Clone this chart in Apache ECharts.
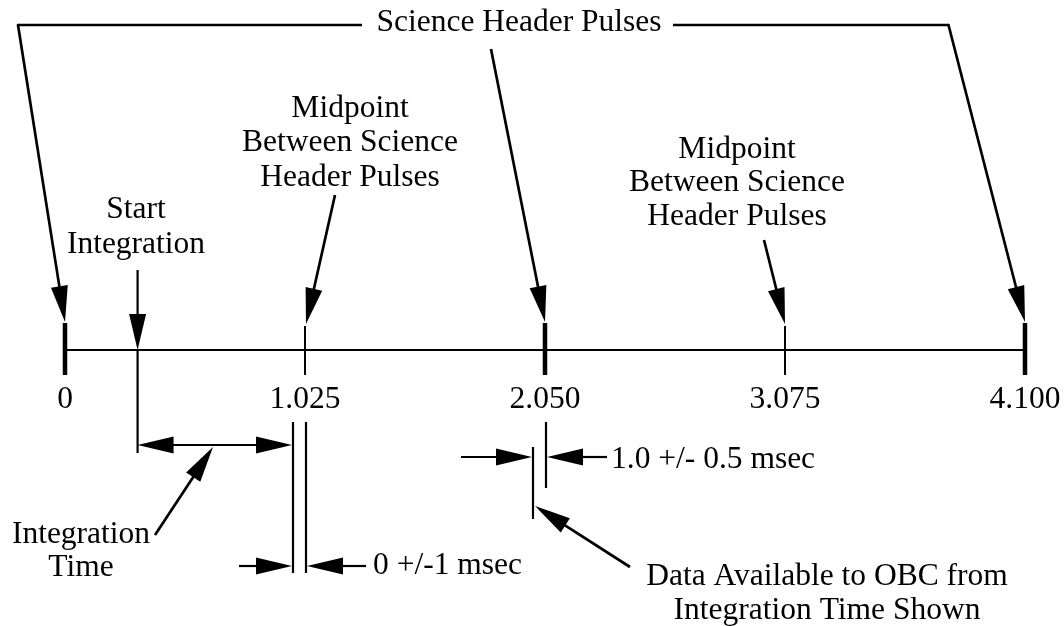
<!DOCTYPE html>
<html><head><meta charset="utf-8">
<script src="https://cdn.jsdelivr.net/npm/echarts@6/dist/echarts.min.js"></script>
<style>html,body{margin:0;padding:0;background:#fff}#c{width:1064px;height:626px}</style>
</head><body><div id="c"></div>
<script>
// ---- data ----
const tickValues = [0, 1.025, 2.05, 3.075, 4.1];
const tickLabels = ['0', '1.025', '2.050', '3.075', '4.100'];
const pulseTimes = [0, 2.05, 4.1];        // Science Header Pulses
const midpointTimes = [1.025, 3.075];     // Midpoints between pulses
const startIntegrationTime = 0.31;
const titleText = 'Science Header Pulses';
const midpointText = 'Midpoint\nBetween Science\nHeader Pulses';
const startText = 'Start\nIntegration';
const integrationText = 'Integration\nTime';
const tol1Text = '0 +/-1 msec';
const tol2Text = '1.0 +/- 0.5 msec';
const dataText = 'Data Available to OBC from\nIntegration Time Shown';

const FONT_FAMILY = "'Liberation Serif', 'Times New Roman', serif";
const FS = 31.5;

const chart = echarts.init(document.getElementById('c'), null, {renderer: 'canvas'});
const tickSeries = (times, width, top) => ({
  type: 'custom',
  data: times.map(t => [t, 0]),
  encode: {x: 0, y: 1},
  silent: true,
  clip: false,
  renderItem: (params, api) => {
    const t = api.value(0);
    const p1 = api.coord([t, top]);
    const p2 = api.coord([t, 25]);
    return {type: 'line', shape: {x1: p1[0], y1: p1[1], x2: p2[0], y2: p2[1]},
      style: {stroke: '#000', lineWidth: width}};
  }
});
chart.setOption({
  animation: false,
  backgroundColor: '#fff',
  grid: {left: 65, right: 39, top: 0, bottom: 276, containLabel: false, outerBoundsMode: 'none'},
  xAxis: {
    type: 'value', min: 0, max: 4.1, interval: 1.025,
    axisLine: {show: true, onZero: false, lineStyle: {color: '#000', width: 2}},
    axisTick: {show: false}, splitLine: {show: false},
    axisLabel: {
      margin: 50, verticalAlign: 'middle', color: '#000',
      fontFamily: FONT_FAMILY, fontSize: FS,
      formatter: (v) => {
        const i = tickValues.findIndex(x => Math.abs(x - v) < 1e-6);
        return i >= 0 ? tickLabels[i] : '';
      }
    }
  },
  yAxis: {type: 'value', min: -350, max: 0, inverse: true, show: false},
  series: [tickSeries(pulseTimes, 4.5, -27), tickSeries(midpointTimes, 2, -24)]
});

const X = t => chart.convertToPixel({xAxisIndex: 0}, t);
const AY = chart.convertToPixel({yAxisIndex: 0}, 0);
const els = [];
const L = 36, HW = 8.5;
function seg(x1, y1, x2, y2, w) {
  els.push({type: 'line', shape: {x1, y1, x2, y2}, style: {stroke: '#000', lineWidth: w || 2.5}});
}
function head(xf, yf, xt, yt) {
  const dx = xt - xf, dy = yt - yf, len = Math.hypot(dx, dy);
  const ux = dx / len, uy = dy / len;
  const bx = xt - ux * L, by = yt - uy * L;
  els.push({type: 'polygon', shape: {points: [[xt, yt], [bx - uy * HW, by + ux * HW], [bx + uy * HW, by - ux * HW]]},
    style: {fill: '#000'}});
  return [bx, by];
}
function arrow(xf, yf, xt, yt, w) {
  const dx = xt - xf, dy = yt - yf, len = Math.hypot(dx, dy);
  const bx = xt - dx / len * (L - 4), by = yt - dy / len * (L - 4);
  seg(xf, yf, bx, by, w);
  head(xf, yf, xt, yt);
}
function txt(s, x, y, align, lh) {
  els.push({type: 'text', x, y, style: {text: s, fill: '#000', fontFamily: FONT_FAMILY, fontSize: FS,
    align: align, textAlign: align, verticalAlign: 'middle', textVerticalAlign: 'middle', lineHeight: lh || 34}});
}

const x0 = X(pulseTimes[0]), x2 = X(pulseTimes[1]), x4 = X(pulseTimes[2]);
const x1 = X(midpointTimes[0]), x3 = X(midpointTimes[1]);
const xs = X(startIntegrationTime);

// Title with connecting lines
const TY = AY - 325;
txt(titleText, 519, TY - 2, 'center');
seg(18, TY, 362, TY, 2.7);
seg(673, TY, x4 - 76.5, TY, 2.7);
arrow(18, TY, x0, AY - 28, 2.7);
arrow(491, TY + 24, x2, AY - 28, 2.7);
arrow(x4 - 76.5, TY, x4, AY - 28, 2.7);
els.push({type: 'circle', shape: {cx: 18, cy: TY, r: 1.3}, style: {fill: '#000'}});
els.push({type: 'circle', shape: {cx: x4 - 76.5, cy: TY, r: 1.3}, style: {fill: '#000'}});

// Start Integration
txt(startText, 136, AY - 122.5, 'center', 35);
arrow(xs, AY - 80, xs, AY, 2.2);
seg(xs, AY, xs, AY + 103, 2.2);

// Midpoint labels
txt(midpointText, 350, AY - 207, 'center', 34.5);
arrow(335, AY - 155, x1 + 1, AY - 26, 2.7);
txt(midpointText, 737, AY - 167, 'center', 33.5);
arrow(764, AY - 110, x3, AY - 26, 2.7);

// Integration time dimension
const DY = AY + 95;
seg(xs + L - 4, DY, x1 - 13 - L + 4, DY, 2.2);
head(xs + 50, DY, xs, DY);
head(xs, DY, x1 - 13, DY);
seg(x1 - 12, AY + 72, x1 - 12, AY + 223, 2.2);
seg(x1 + 1, AY + 72, x1 + 1, AY + 223, 2.2);
arrow(x1 - 66, AY + 216, x1 - 13, AY + 216, 2.2);
arrow(x1 + 61, AY + 216, x1 + 2, AY + 216, 2.2);
txt(tol1Text, x1 + 68, AY + 216, 'left');
arrow(155, AY + 185, 213, AY + 97, 2.7);
txt(integrationText, 81, AY + 201.5, 'center', 33);

// Data available
seg(x2 + 1, AY + 72, x2 + 1, AY + 138, 2.2);
seg(x2 - 12, AY + 97, x2 - 12, AY + 169, 2.2);
arrow(x2 - 84, AY + 107, x2 - 13, AY + 107, 2.2);
arrow(x2 + 62, AY + 107, x2 + 2, AY + 107, 2.2);
txt(tol2Text, x2 + 66, AY + 110, 'left');
arrow(630, AY + 217, x2 - 10, AY + 156, 2.7);
txt(dataText, 827, AY + 244, 'center', 34);

chart.setOption({graphic: {elements: els}});
</script></body></html>
